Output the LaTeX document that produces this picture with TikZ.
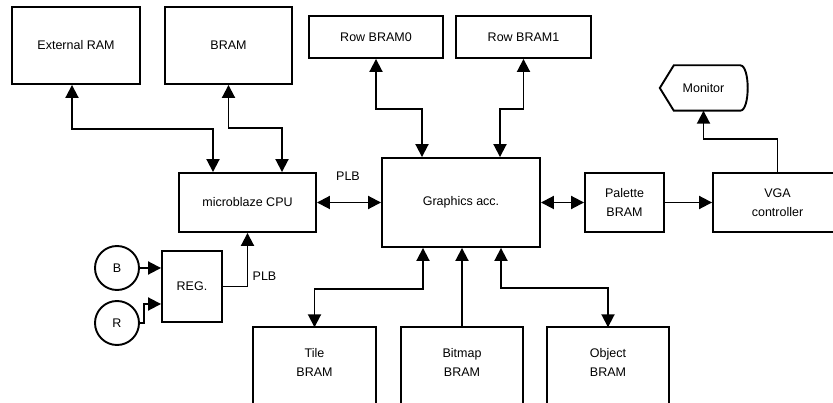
\documentclass[tikz,border=0pt]{standalone}
\usepackage{fontspec}
\setmainfont{Liberation Sans}
\usetikzlibrary{arrows.meta,calc}

\tikzset{
 blk/.style={draw,line width=1.9pt,align=center},
 ln/.style={line width=1.9pt},
 btn/.style={draw,circle,line width=1.9pt,minimum size=44pt,inner sep=0pt},
 >={Triangle[length=13pt,width=13pt]}
}

\begin{document}
\begin{tikzpicture}[x=1pt,y=-1pt,font=\fontsize{12.5}{19}\selectfont,line join=miter]
 \clip (0,0) rectangle (833,403);
 \node[blk,minimum width=128,minimum height=77] (ext) at (76,45.5) {External RAM};
 \node[blk,minimum width=127,minimum height=77] (bram) at (228.5,45.5) {BRAM};
 \node[blk,minimum width=134,minimum height=42] (row0) at (376,37) {Row BRAM0};
 \node[blk,minimum width=135,minimum height=42] (row1) at (523.5,37) {Row BRAM1};
 \node[minimum width=87,minimum height=45] (mon) at (703.5,88) {Monitor};
 \draw[ln] (mon.west)--([xshift=14pt]mon.north west)--([xshift=-7pt]mon.north east)
  .. controls ([xshift=3pt]mon.north east) and ([xshift=3pt]mon.south east) .. ([xshift=-7pt]mon.south east)
  --([xshift=14pt]mon.south west)--cycle;
 \node[blk,minimum width=137,minimum height=59] (cpu) at (247.5,202.5) {microblaze CPU};
 \node[blk,minimum width=158,minimum height=89] (gfx) at (461,202.5) {Graphics acc.};
 \node[blk,minimum width=79,minimum height=59] (pal) at (624.5,202.5) {Palette\\BRAM};
 \node[blk,minimum width=129,minimum height=59] (vga) at (777.5,202.5) {VGA\\controller};
 \node[blk,minimum width=60,minimum height=71] (reg) at (192,286.5) {REG.};
 \node[btn] (btnb) at (117,268) {B};
 \node[btn] (btnr) at (117,323) {R};
 \node[align=center,minimum width=123,minimum height=69] (tile) at (314.5,362) {Tile\\BRAM};
 \node[align=center,minimum width=122,minimum height=69] (bmp) at (462,362) {Bitmap\\BRAM};
 \node[align=center,minimum width=122,minimum height=69] (obj) at (608,362) {Object\\BRAM};
 \foreach \b in {tile,bmp,obj}{\draw[ln] (\b.north west) rectangle ([yshift=-40pt]\b.south east);}
 \node (plba) at (348,176) {PLB};
 \node (plbb) at (264.5,276) {PLB};
 \draw[ln,<->] ([xshift=-4pt]ext.south)--++(0,44)-|([xshift=-34.5pt]cpu.north);
 \draw[ln,<->] (bram.south)--++(0,43)-|([xshift=34.5pt]cpu.north);
 \draw[ln,<->] (row0.south)--++(0,50)-|([xshift=-39pt]gfx.north);
 \draw[ln,<->] (row1.south)--++(0,50)-|([xshift=39pt]gfx.north);
 \draw[ln,->] (vga.north)--++(0,-33)-|(mon.south);
 \draw[ln,<->] (cpu.east)--(gfx.west);
 \draw[ln,<->] (gfx.east)--(pal.west);
 \draw[ln,->] (pal.east)--(vga.west);
 \draw[ln,->] (reg.east)-|(cpu.south);
 \draw[ln,->] (btnb.east)--(reg.west|-btnb.east);
 \draw[ln,->] (btnr.east)--++(4,0)|-([yshift=-17.5pt]reg.west);
 \draw[ln,<->] ([xshift=-38pt]gfx.south)--++(0,41)-|(tile.north);
 \draw[ln,->] (bmp.north)--(bmp.north|-gfx.south);
 \draw[ln,<->] ([xshift=40pt]gfx.south)--++(0,40)-|(obj.north);
\end{tikzpicture}
\end{document}
